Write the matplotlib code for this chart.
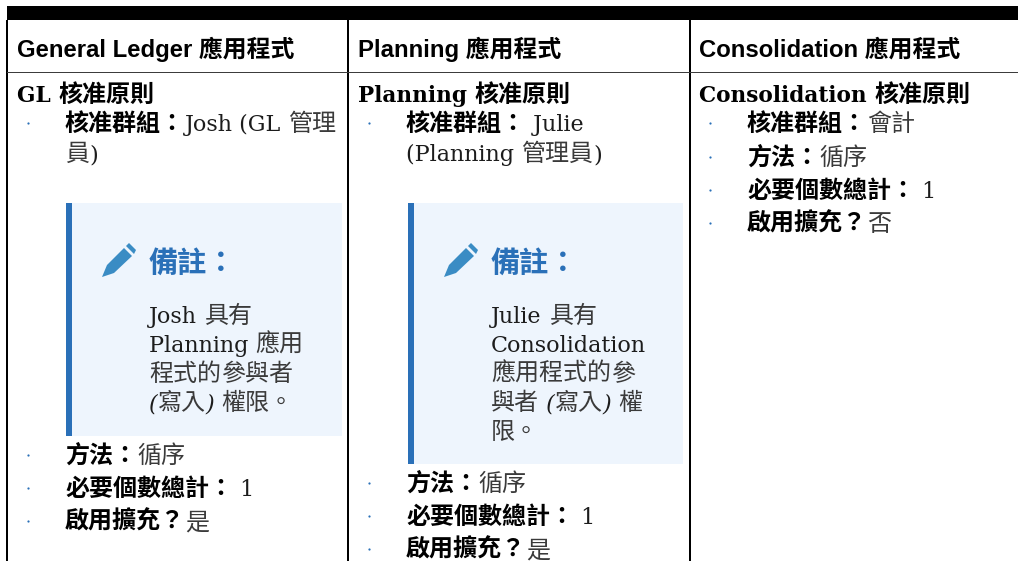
import re
import matplotlib
matplotlib.use("Agg")
import matplotlib.pyplot as plt
from matplotlib.patches import Rectangle, Polygon

# =========================
# TEXT CONTENT
# =========================
headers = ["General Ledger 應用程式", "Planning 應用程式", "Consolidation 應用程式"]
rule_titles = ["GL 核准原則", "Planning 核准原則", "Consolidation 核准原則"]
group_labels = ["核准群組：", "核准群組：", "核准群組："]
group_values = [["Josh (GL 管理", "員)"], [" Julie", "(Planning 管理員)"], ["會計"]]
method_values = ["循序", "循序", "循序"]
total_values = ["1", "1", "1"]
expand_values = ["是", "是", "否"]
note_title = "備註："
# each run is (text, italic)
note_lines = [
    [
        [("Josh 具有", False)],
        [("Planning 應用", False)],
        [("程式的", False), ("參與者", True)],
        [("(寫入)", True), (" 權限。", False)],
    ],
    [
        [("Julie 具有", False)],
        [("Consolidation", False)],
        [("應用程式的", False), ("參", True)],
        [("與者 (寫入)", True), (" 權", False)],
        [("限。", False)],
    ],
    [],
]

# =========================
# LAYOUT (pixels)
# =========================
W, H = 1018, 561
col_x = [17, 358, 699]
indent_x = [65, 406, 747]
bullet_x = [28, 369, 710]
note_box = [(66, 203, 276, 233), (408, 203, 275, 261)]
method_y = [463, 491, 165]

HEAD = ["Liberation Sans", "Noto Sans CJK TC"]
BLUE = "#2a70b8"
CJK_SIZE = 17.3
LATIN_SIZE = 16.0
LATIN_BOLD_SIZE = 15.6

fig = plt.figure(figsize=(W / 100, H / 100), dpi=100, facecolor="white")
ax = fig.add_axes([0, 0, 1, 1])
ax.set_xlim(0, W)
ax.set_ylim(H, 0)
ax.axis("off")
renderer = fig.canvas.get_renderer()


def advance(text, **kw):
    # width with the spaces counted, the bars stop them being trimmed
    a = ax.text(0, 0, "|" + text + "|", **kw)
    b = ax.text(0, 0, "||", **kw)
    w = a.get_window_extent(renderer).width - b.get_window_extent(renderer).width
    a.remove()
    b.remove()
    return w


def run_text(x, y, runs):
    # runs: (text, bold, italic), latin goes in a serif and CJK in a sans
    for text, bold, italic in runs:
        for part in re.findall(r"[\x00-\x7f]+|[^\x00-\x7f]+", text):
            latin = part.isascii()
            if latin:
                size = LATIN_BOLD_SIZE if bold else LATIN_SIZE
            else:
                size = CJK_SIZE
            kw = dict(family="DejaVu Serif" if latin else "Noto Sans CJK TC",
                      fontsize=size,
                      fontweight="bold" if bold else "normal",
                      fontstyle="italic" if italic and latin else "normal")
            color = "black" if bold else ("#1c1c1c" if latin else "#3a3a3a")
            ax.text(x, y, part, color=color, va="baseline", **kw)
            x += advance(part, **kw)


def bullet(x, y):
    ax.plot([x], [y], marker="o", ms=1.6, color=BLUE, mew=0)


def pencil(x, y):
    body = [(x + 0, y + 26), (x + 5, y + 14), (x + 22, y - 3), (x + 30, y + 5), (x + 12, y + 22)]
    cap = [(x + 24, y - 5), (x + 27, y - 8), (x + 34, y - 1), (x + 32, y + 3)]
    ax.add_patch(Polygon(body, color="#3a8cc4", lw=0))
    ax.add_patch(Polygon(cap, color="#3a8cc4", lw=0))


# =========================
# TABLE FRAME
# =========================
ax.add_patch(Rectangle((7, 6), W - 7, 14, color="black", lw=0))
ax.add_patch(Rectangle((6, 20), 2, H - 20, color="black", lw=0))
ax.add_patch(Rectangle((347.5, 20), 2, H - 20, color="black", lw=0))
ax.add_patch(Rectangle((689, 20), 2, H - 20, color="black", lw=0))
ax.add_patch(Rectangle((7, 72), W - 7, 1.2, color="#3c3c3c", lw=0))

# =========================
# COLUMNS
# =========================
for i in range(3):
    ax.text(col_x[i], 57, headers[i], family=HEAD, fontsize=17.2, fontweight="bold",
            color="black", va="baseline")
    run_text(col_x[i], 102, [(rule_titles[i], True, False)])

    # approval group
    bullet(bullet_x[i], 122.5)
    run_text(indent_x[i], 131, [(group_labels[i], True, False), (group_values[i][0], False, False)])
    if len(group_values[i]) > 1:
        run_text(indent_x[i], 161, [(group_values[i][1], False, False)])

    # note box
    if note_lines[i]:
        bx, by, bw, bh = note_box[i]
        ax.add_patch(Rectangle((bx, by), bw, bh, color="#eef5fd", lw=0))
        ax.add_patch(Rectangle((bx, by), 6, bh, color=BLUE, lw=0))
        pencil(bx + 36, by + 48)
        ax.text(bx + 83, 272, note_title, family=HEAD, fontsize=21, fontweight="bold",
                color=BLUE, va="baseline")
        for n, line in enumerate(note_lines[i]):
            run_text(bx + 83, 323 + n * 29, [(t, False, it) for t, it in line])

    # method / total / expansion rows
    y0 = method_y[i]
    rows = [
        [("方法：", True, False), (method_values[i], False, False)],
        [("必要個數總計：", True, False), (" " + total_values[i], False, False)],
        [("啟用擴充？", True, False), (expand_values[i], False, False)],
    ]
    for r, runs in enumerate(rows):
        y = y0 + r * 33
        bullet(bullet_x[i], y - 8.5)
        run_text(indent_x[i], y, runs)

fig.savefig("out.png", dpi=100, facecolor="white")
